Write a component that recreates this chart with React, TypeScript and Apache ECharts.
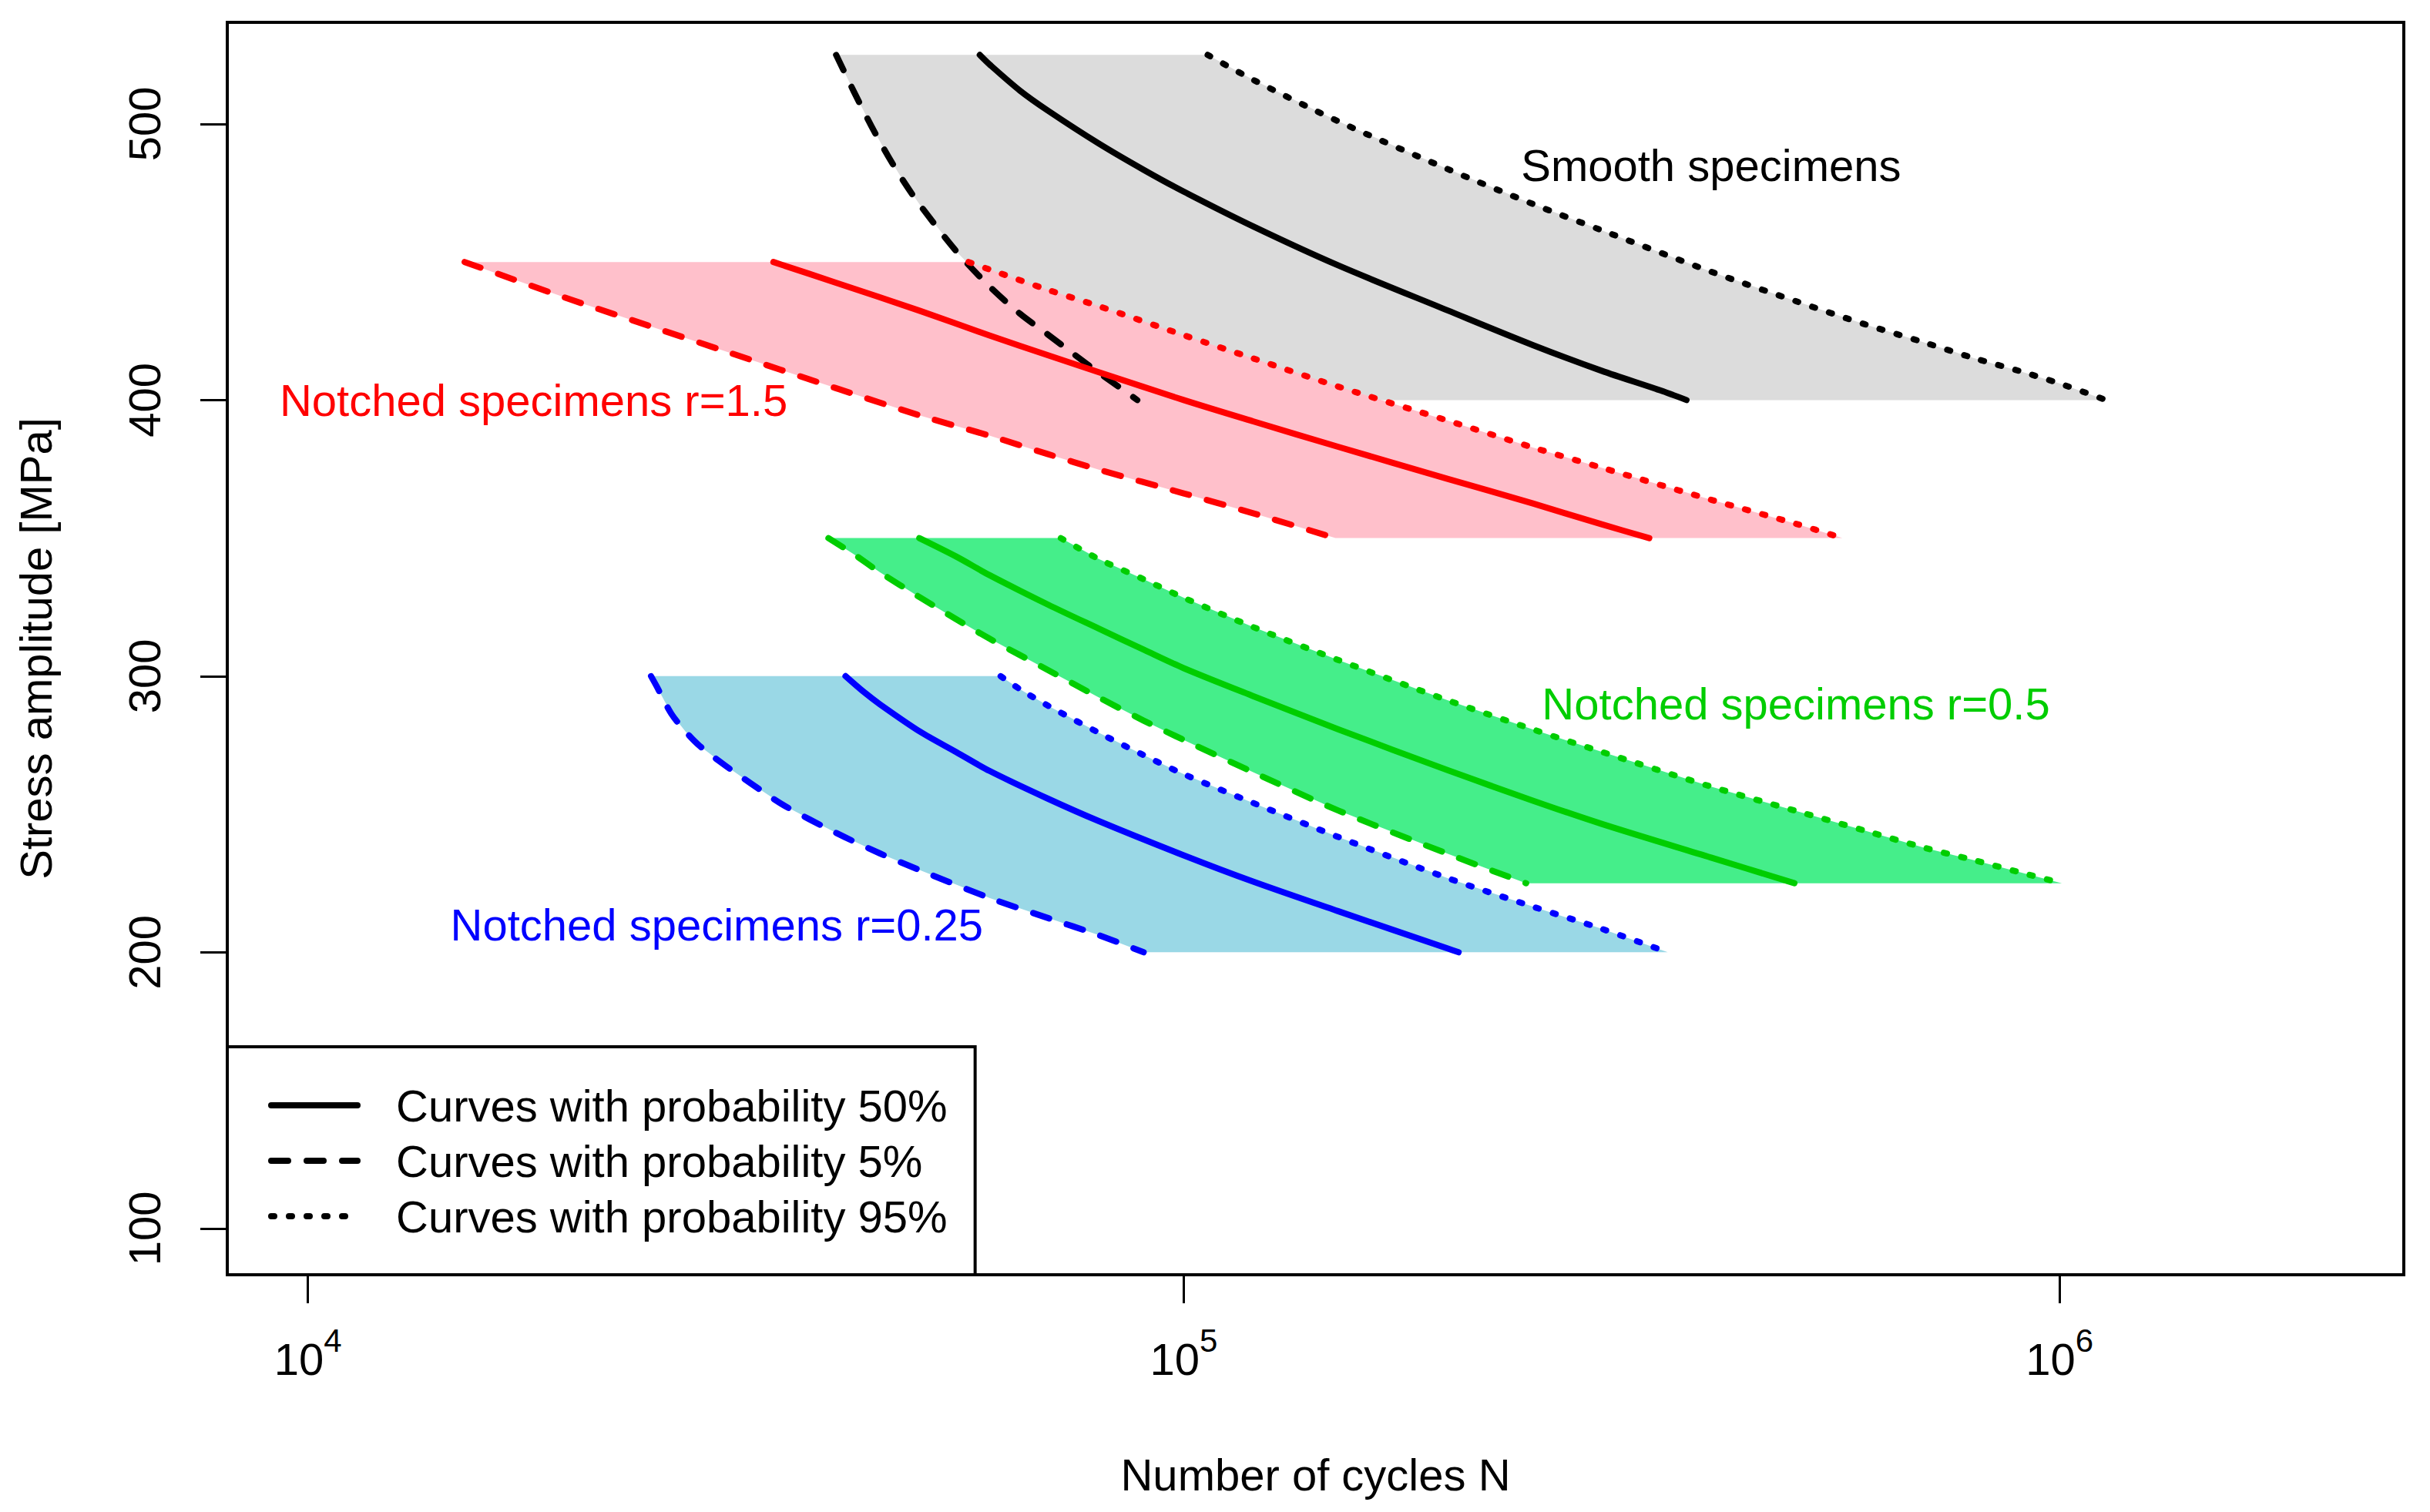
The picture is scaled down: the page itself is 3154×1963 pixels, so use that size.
import React, { useEffect, useRef } from "react";
import * as echarts from "echarts";

// ---------- data (N = cycles, S = stress amplitude in MPa) ----------
// Smooth specimens (black)
const SMOOTH_P5_N = [40100, 42000, 44000, 46000, 48000, 50000, 55000, 60000, 65000, 70000, 75000, 80000, 85000, 88500];
const SMOOTH_P5_S = [525, 511.8, 499.2, 488.2, 478.7, 470.6, 453.9, 441.2, 431.3, 423.7, 416.5, 409.9, 404.0, 400];
const SMOOTH_P50_N = [58500, 60000, 65000, 70000, 80000, 90000, 100000, 120000, 150000, 200000, 250000, 300000, 350000, 375000];
const SMOOTH_P50_S = [525, 521.6, 512.1, 504.8, 492.9, 483.4, 475.5, 462.9, 448.8, 432.5, 420.0, 410.6, 403.5, 400];
const SMOOTH_P95_N = [106500, 120000, 150000, 200000, 250000, 300000, 400000, 500000, 600000, 700000, 800000, 900000, 1000000, 1130000];
const SMOOTH_P95_S = [525, 516.0, 501.0, 483.7, 471.1, 461.5, 446.5, 435.8, 427.4, 420.9, 415.1, 410.5, 406.0, 400];

// Notched specimens r=1.5 (red)
const R15_P5_N = [15100, 20000, 25000, 30000, 40000, 50000, 60000, 70000, 80000, 100000, 120000, 149000];
const R15_P5_S = [450, 436.3, 426.0, 417.6, 404.4, 394.4, 387.1, 380.4, 374.8, 366.2, 359.0, 350];
const R15_P50_N = [34000, 40000, 50000, 60000, 70000, 80000, 100000, 120000, 150000, 200000, 250000, 300000, 340000];
const R15_P50_S = [450, 442.6, 432.3, 423.4, 416.2, 410.1, 400.0, 392.3, 383.1, 371.5, 362.6, 355.0, 350];
const R15_P95_N = [56800, 60000, 70000, 80000, 100000, 120000, 150000, 200000, 250000, 300000, 400000, 500000, 565000];
const R15_P95_S = [450, 447.3, 439.9, 434.0, 423.5, 415.1, 404.9, 392.6, 382.9, 375.5, 363.9, 355.2, 350];

// Notched specimens r=0.5 (green)
const R05_P5_N = [39300, 42000, 45000, 50000, 55000, 60000, 70000, 80000, 90000, 100000, 120000, 150000, 200000, 246000];
const R05_P5_S = [350, 344.2, 337.6, 328.5, 320.6, 313.6, 302.2, 292.3, 283.9, 276.9, 265.2, 251.4, 235.7, 225];
const R05_P50_N = [49900, 55000, 60000, 70000, 80000, 90000, 100000, 120000, 150000, 200000, 250000, 300000, 400000, 498000];
const R05_P50_S = [350, 343.3, 336.6, 325.9, 317.2, 309.6, 302.9, 292.8, 280.8, 266.0, 255.0, 246.5, 234.3, 225];
const R05_P95_N = [72400, 80000, 90000, 100000, 120000, 150000, 200000, 250000, 300000, 400000, 500000, 600000, 700000, 800000, 900000, 1006000];
const R05_P95_S = [350, 342.4, 335.1, 328.4, 317.8, 305.9, 291.3, 280.8, 272.6, 260.0, 251.2, 244.0, 237.9, 233.3, 229.0, 225];

// Notched specimens r=0.25 (blue)
const R025_P5_N = [24650, 25000, 26000, 27000, 28000, 30000, 32000, 35000, 40000, 45000, 50000, 60000, 70000, 80000, 90000];
const R025_P5_S = [300, 296.5, 286.4, 279.9, 274.8, 267.5, 261.3, 253.1, 243.4, 235.8, 229.7, 219.7, 212.4, 206.2, 200];
const R025_P50_N = [41100, 43000, 45000, 50000, 55000, 60000, 70000, 80000, 100000, 120000, 150000, 200000, 206000];
const R025_P50_S = [300, 294.6, 289.8, 279.9, 272.5, 265.7, 255.6, 247.5, 235.1, 225.6, 214.9, 201.4, 200];
const R025_P95_N = [61800, 65000, 70000, 80000, 90000, 100000, 120000, 150000, 200000, 250000, 300000, 357000];
const R025_P95_S = [300, 295.3, 289.3, 279.5, 271.4, 264.5, 254.1, 241.8, 226.9, 216.6, 208.5, 200];

// In-plot labels
const LABEL_TEXTS = ["Smooth specimens", "Notched specimens r=1.5", "Notched specimens r=0.5", "Notched specimens r=0.25"];
const LABEL_N = [400000, 18100, 500000, 29300];
const LABEL_S = [485, 400, 290, 210];

// Axes
const X_TICK_EXPONENTS = [4, 5, 6];
const Y_TICKS = [100, 200, 300, 400, 500];
const LEGEND_NAMES = ["Curves with probability 50%", "Curves with probability 5%", "Curves with probability 95%"];

// ---------- styles ----------
const FONT = "'Liberation Sans', Arial, Helvetica, sans-serif";
const LINE_COLORS = ["#000000", "#FF0000", "#00CD00", "#0000FF"];
const FILL_COLORS = ["#DCDCDC", "#FFC0CB", "#45EE8A", "#9AD8E6"];
const DASHED = [22, 24];
const DOTTED = [4, 19];
const LINE_W = 8;

const X_MIN = 3.908;
const X_MAX = 6.393;
const Y_MIN = 83.2;
const Y_MAX = 536.8;

const toPts = (N: number[], S: number[]) => N.map((n, i) => [Math.log10(n), S[i]]);

const GROUPS = [
  { name: "Smooth specimens", p5: toPts(SMOOTH_P5_N, SMOOTH_P5_S), p50: toPts(SMOOTH_P50_N, SMOOTH_P50_S), p95: toPts(SMOOTH_P95_N, SMOOTH_P95_S) },
  { name: "Notched r=1.5", p5: toPts(R15_P5_N, R15_P5_S), p50: toPts(R15_P50_N, R15_P50_S), p95: toPts(R15_P95_N, R15_P95_S) },
  { name: "Notched r=0.5", p5: toPts(R05_P5_N, R05_P5_S), p50: toPts(R05_P50_N, R05_P50_S), p95: toPts(R05_P95_N, R05_P95_S) },
  { name: "Notched r=0.25", p5: toPts(R025_P5_N, R025_P5_S), p50: toPts(R025_P50_N, R025_P50_S), p95: toPts(R025_P95_N, R025_P95_S) },
];

function buildOption() {
  const series: any[] = [];

  // Bands (filled between 5% and 95% curves)
  GROUPS.forEach((g, gi) => {
    const poly = [...g.p5, ...g.p95.slice().reverse()];
    series.push({
      type: "custom",
      name: g.name + " band",
      coordinateSystem: "cartesian2d",
      z: 1,
      silent: true,
      encode: { x: 0, y: 1 },
      data: [g.p5[0]],
      renderItem: (_params: any, api: any) => ({
        type: "polygon",
        shape: { points: poly.map((p) => api.coord(p)) },
        style: { fill: FILL_COLORS[gi], stroke: "none" },
      }),
    });
  });

  // Curves
  GROUPS.forEach((g, gi) => {
    const defs: [string, number[][], any][] = [
      ["50%", g.p50, "solid"],
      ["5%", g.p5, DASHED],
      ["95%", g.p95, DOTTED],
    ];
    defs.forEach(([p, pts, type]) => {
      series.push({
        type: "line",
        name: `${g.name} ${p}`,
        data: pts,
        symbol: "none",
        showSymbol: false,
        silent: true,
        smooth: 0.3,
        z: 2,
        color: LINE_COLORS[gi],
        lineStyle: { color: LINE_COLORS[gi], width: LINE_W, type, cap: "round", join: "round" },
      });
    });
  });

  // Legend-only series
  const legendTypes: any[] = ["solid", DASHED, DOTTED];
  LEGEND_NAMES.forEach((n, i) => {
    series.push({
      type: "line",
      name: n,
      data: [],
      symbol: "none",
      color: "#000",
      lineStyle: { color: "#000", width: LINE_W, type: legendTypes[i], cap: "round" },
    });
  });

  // In-plot labels
  series.push({
    type: "custom",
    name: "labels",
    coordinateSystem: "cartesian2d",
    z: 5,
    silent: true,
    encode: { x: 0, y: 1 },
    data: LABEL_N.map((n, i) => [Math.log10(n), LABEL_S[i], i]),
    renderItem: (params: any, api: any) => {
      const i = params.dataIndex;
      const c = api.coord([api.value(0), api.value(1)]);
      return {
        type: "text",
        x: c[0],
        y: c[1],
        style: {
          text: LABEL_TEXTS[i],
          fill: LINE_COLORS[i],
          fontSize: 58,
          fontFamily: FONT,
          align: "center",
          verticalAlign: "middle",
        },
      };
    },
  });

  return {
    animation: false,
    backgroundColor: "#ffffff",
    textStyle: { fontFamily: FONT },
    grid: {
      left: 295,
      top: 29,
      right: 34,
      bottom: 308,
      show: true,
      borderColor: "#000",
      borderWidth: 4,
      backgroundColor: "transparent",
      containLabel: false,
    },
    legend: {
      data: LEGEND_NAMES,
      orient: "vertical",
      left: 295,
      top: 1359,
      padding: [40, 36, 40, 53],
      itemGap: 0,
      itemWidth: 112,
      itemHeight: 24,
      backgroundColor: "#ffffff",
      borderColor: "#000",
      borderWidth: 4,
      borderRadius: 0,
      selectedMode: false,
      z: 10,
      itemStyle: { opacity: 0, borderWidth: 0 },
      lineStyle: { width: LINE_W, cap: "round" },
      textStyle: { fontSize: 58, lineHeight: 72, color: "#000", fontFamily: FONT, padding: [0, 0, 0, 45] },
    },
    xAxis: {
      type: "value",
      min: X_MIN,
      max: X_MAX,
      name: "Number of cycles N",
      nameLocation: "middle",
      nameGap: 230,
      nameTextStyle: { fontSize: 58, color: "#000", fontFamily: FONT },
      axisLine: { show: false },
      splitLine: { show: false },
      axisTick: {
        show: true,
        customValues: X_TICK_EXPONENTS,
        length: 37,
        lineStyle: { color: "#000", width: 3 },
      },
      axisLabel: {
        show: true,
        customValues: X_TICK_EXPONENTS,
        margin: 64,
        color: "#000",
        formatter: (v: number) => `{b|10}{s|${Math.round(v)}}`,
        rich: {
          b: { fontSize: 58, lineHeight: 90, fontFamily: FONT, color: "#000" },
          s: { fontSize: 42, lineHeight: 40, verticalAlign: "top", fontFamily: FONT, color: "#000" },
        },
      },
    },
    yAxis: {
      type: "value",
      min: Y_MIN,
      max: Y_MAX,
      name: "Stress amplitude [MPa]",
      nameLocation: "middle",
      nameRotate: 90,
      nameGap: 220,
      nameTextStyle: { fontSize: 58, color: "#000", fontFamily: FONT },
      axisLine: { show: false },
      splitLine: { show: false },
      axisTick: {
        show: true,
        customValues: Y_TICKS,
        length: 35,
        lineStyle: { color: "#000", width: 3 },
      },
      axisLabel: {
        show: true,
        customValues: Y_TICKS,
        rotate: 90,
        margin: 79,
        fontSize: 58,
        color: "#000",
        fontFamily: FONT,
      },
    },
    series,
  };
}

export default function App() {
  const ref = useRef<HTMLDivElement>(null);
  useEffect(() => {
    if (!ref.current) return;
    const chart = echarts.init(ref.current, undefined, { renderer: "svg" });
    chart.setOption(buildOption() as any);
    return () => chart.dispose();
  }, []);
  return (
    <div
      ref={ref}
      style={{ position: "fixed", left: 0, top: 0, width: 3154, height: 1963, background: "#fff" }}
    />
  );
}
